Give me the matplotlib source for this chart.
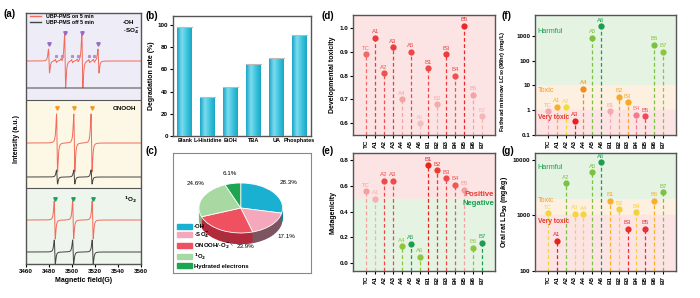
import numpy as np
import matplotlib.pyplot as plt
from matplotlib.patches import Patch
from matplotlib.lines import Line2D
from matplotlib.colors import LinearSegmentedColormap

plt.rcParams['font.family'] = ['Liberation Sans', 'DejaVu Sans']
plt.rcParams['font.size'] = 5
plt.rcParams['font.weight'] = 'bold'
plt.rcParams['axes.labelweight'] = 'bold'
plt.rcParams['axes.linewidth'] = 1.0
plt.rcParams['axes.edgecolor'] = '#555555'
plt.rcParams['xtick.major.size'] = 2
plt.rcParams['ytick.major.size'] = 2
plt.rcParams['xtick.major.pad'] = 1.5
plt.rcParams['ytick.major.pad'] = 1.5
plt.rcParams['axes.labelpad'] = 2

# ---------------- data ----------------
# (a) EPR line positions (G) and amplitudes
oh_lines = [3480, 3494, 3509, 3523]
oh_amps = [12, 27, 27, 12]
so4_lines = [3486, 3491, 3500, 3505, 3515, 3519]
so4_amps = [1.5, 1.5, 1.5, 1.5, 1.5, 1.5]
onooh_lines = [3487, 3502, 3517]
onooh_on = [29, 29, 29]
onooh_off = [7, 7, 7]
o2_lines = [3485, 3501, 3518]
o2_on = [19, 19, 19]
o2_off = [12, 12, 12]

# (b) quenching experiments
scavengers = ['Blank', 'L-Histidine', 'EtOH', 'TBA', 'UA', 'Phosphates']
degradation = [98, 35, 44, 65, 70, 91]

# (c) contribution of reactive species
species = ['·OH', '·SO$_4^{-}$', 'ONOOH/·O$_2^{-}$', '$^1$O$_2$', 'Hydrated electrons']
contrib = [28.3, 17.1, 23.9, 24.6, 6.1]

# (d)-(g) toxicity of TC and intermediates
products = ['TC', 'A1', 'A2', 'A3', 'A4', 'A5', 'A6',
            'B1', 'B2', 'B3', 'B4', 'B5', 'B6', 'B7']
dev_tox = [0.89, 0.96, 0.81, 0.92, 0.70, 0.90, 0.60,
           0.83, 0.68, 0.89, 0.80, 1.01, 0.72, 0.63]
mutagen = [0.56, 0.50, 0.64, 0.64, 0.13, 0.15, 0.05,
           0.76, 0.72, 0.66, 0.61, 0.57, 0.12, 0.16]
lc50 = [0.9, 1.4, 1.3, 0.38, 7.5, 850, 2500,
        0.9, 3.5, 2.1, 0.65, 0.58, 450, 230]
ld50 = [1100, 350, 3800, 1080, 1050, 6000, 9000,
        1850, 1300, 580, 1150, 580, 1850, 2600]

# ---------------- styles ----------------
RED = '#e8352e'
GREEN = '#1a9e50'
ORANGE = '#f39a2b'
d_colors = ['#f06a6a', '#ec3b3b', '#ef5050', '#ec3b3b', '#f4a3a3', '#ef4545', '#f6bcbc',
            '#ef4848', '#f5aaaa', '#ec3b3b', '#ef5050', '#e82a2a', '#f4a3a3', '#f6b6b6']
e_colors = ['#f4a0a0', '#f6b0b0', '#ef4a4a', '#ef4a4a', '#8cc63f', '#1a9e50', '#8cc63f',
            '#e8261e', '#ee3a2a', '#ef4a4a', '#f05858', '#f4a0a0', '#8cc63f', '#1a9e50']
f_colors = ['#f6a8b0', '#f7b02c', '#f0dc3a', '#e8201e', '#f28a1e', '#7cc242', '#1a9e50',
            '#f6a8b0', '#f7a82a', '#f7a82a', '#f27a8a', '#f04a5a', '#7cc242', '#8cc63f']
g_colors = ['#f4d63c', '#e8201e', '#7cc242', '#f4d63c', '#f4d63c', '#7cc242', '#1a9e50',
            '#f7b02c', '#f4d03c', '#ec3030', '#f4d03c', '#ec3030', '#f7b02c', '#7cc242']
pie_top = ['#19b0d2', '#f5a7bb', '#ef5160', '#a9d9a2', '#1ea552']
pie_side = ['#10829e', '#7d5560', '#b22a3c', '#86b47f', '#127a3c']

BG_PINK = '#fde4e4'
BG_GREEN = '#e5f3e3'
BG_ORANGE = '#fdf0e0'

W, H = 700, 298
fig = plt.figure(figsize=(W / 100, H / 100), dpi=100)


def px_box(l, t, r, b):
    return [l / W, 1 - b / H, (r - l) / W, (b - t) / H]


def letter(x, y, s):
    fig.text(x / W, 1 - y / H, s, fontsize=7, weight='bold', va='center')


# ---------------- (a) EPR ----------------
field = np.linspace(3460, 3560, 3000)


def epr(lines, amps, width=0.8):
    y = np.zeros_like(field)
    for c, a in zip(lines, amps):
        u = (field - c) / width
        y += a * (-u) / (1 + u ** 2) ** 2 / 0.3248
    return y


ax_a = fig.add_axes(px_box(26, 13, 141, 264))
ax_a.axhspan(164, 251, color='#eeecf6', zorder=0)
ax_a.axhspan(76, 164, color='#fdf7e6', zorder=0)
ax_a.axhspan(0, 76, color='#edf5ec', zorder=0)
ax_a.axhline(164, color='#555555', lw=0.8)
ax_a.axhline(76, color='#555555', lw=0.8)

red_l = '#f26b5b'
blk_l = '#444444'
ax_a.plot(field, 203 + epr(oh_lines, oh_amps) + epr(so4_lines, so4_amps), color=red_l, lw=0.7)
ax_a.plot(field, 176 + 0 * field, color=blk_l, lw=0.7)
ax_a.plot(field, 121 + epr(onooh_lines, onooh_on), color=red_l, lw=0.7)
ax_a.plot(field, 87 + epr(onooh_lines, onooh_off), color=blk_l, lw=0.7)
ax_a.plot(field, 44 + epr(o2_lines, o2_on), color=red_l, lw=0.7)
ax_a.plot(field, 12 + epr(o2_lines, o2_off), color=blk_l, lw=0.7)

ax_a.plot(oh_lines, [231 if a > 20 else 220 for a in oh_amps], 'v', color='#9b6bc4', ms=2.5)
ax_a.plot(so4_lines, [208] * len(so4_lines), '*', color='#b58fd6', ms=2)
ax_a.plot(onooh_lines, [156] * 3, 'v', color='#f59a23', ms=2.5)
ax_a.plot(o2_lines, [65] * 3, 'v', color='#1aa260', ms=2.5)

ax_a.text(3544, 242, '·OH', fontsize=4.5, va='center')
ax_a.text(3544, 233, '·SO$_4^{-}$', fontsize=4.5, va='center')
ax_a.text(3556, 156, 'ONOOH', fontsize=4.5, va='center', ha='right')
ax_a.text(3556, 64, '$^1$O$_2$', fontsize=4.5, va='center', ha='right')

ax_a.legend([Line2D([], [], color=red_l, lw=1), Line2D([], [], color=blk_l, lw=1)],
            ['UBP-PMS on 5 min', 'UBP-PMS off 5 min'],
            loc='upper left', bbox_to_anchor=(0.0, 1.01), frameon=False,
            fontsize=3.8, handlelength=2.2, labelspacing=0.15, borderaxespad=0.3)

ax_a.set_xlim(3460, 3560)
ax_a.set_ylim(0, 251)
ax_a.set_xticks([3460, 3480, 3500, 3520, 3540, 3560])
ax_a.set_yticks([])
ax_a.set_xlabel('Magnetic field(G)', fontsize=5)
ax_a.set_ylabel('Intensity (a.u.)', fontsize=5, labelpad=4)
ax_a.tick_params(labelsize=4.5)
letter(4, 14, '(a)')

# ---------------- (b) bars ----------------
ax_b = fig.add_axes(px_box(173, 16, 311, 136))
xb = np.arange(len(scavengers))
bars = ax_b.bar(xb, degradation, width=0.65, color='#3cc4de', edgecolor='none', zorder=2)
cmap = LinearSegmentedColormap.from_list('cy', ['#1aa6c6', '#7ddcef', '#3cc4de', '#1aa6c6'])
grad = np.linspace(0, 1, 60).reshape(1, -1)
for b in bars:
    im = ax_b.imshow(grad, extent=[b.get_x(), b.get_x() + b.get_width(), 0, b.get_height()],
                     aspect='auto', cmap=cmap, zorder=3)
    im.set_clip_path(b)
    ax_b.plot([b.get_x(), b.get_x() + b.get_width()], [b.get_height()] * 2,
              color='#bbbbbb', lw=0.8, zorder=4)
ax_b.set_xlim(-0.52, 5.5)
ax_b.set_ylim(0, 108)
ax_b.set_yticks([0, 20, 40, 60, 80, 100])
ax_b.set_xticks(xb, scavengers)
ax_b.tick_params(labelsize=4.5)
ax_b.tick_params(axis='x', length=0, labelsize=4.0)
ax_b.set_ylabel('Degradation rate (%)', fontsize=5)
letter(146, 16, '(b)')

# ---------------- (c) 3D-like pie ----------------
ax_c = fig.add_axes(px_box(173, 153, 311, 273))
depth = 0.45
for dy in np.linspace(depth, 0.02, 14):
    ax_c.pie(contrib, colors=pie_side, startangle=90, counterclock=False,
             center=(0, -dy), radius=1, frame=True, wedgeprops=dict(linewidth=0))
ax_c.pie(contrib, colors=pie_top, startangle=90, counterclock=False,
         center=(0, 0), radius=1, frame=True,
         wedgeprops=dict(edgecolor='white', linewidth=0.6))
ax_c.set_aspect('auto')
ax_c.set_xlim(-1.62, 1.68)
ax_c.set_ylim(-2.6, 2.2)
ax_c.set_xticks([])
ax_c.set_yticks([])
for s in ax_c.spines.values():
    s.set_color('#888888')
    s.set_linewidth(0.8)

pct_pos = [(1.15, 1.0), (1.1, -1.15), (0.12, -1.55), (-1.08, 0.98), (-0.27, 1.38)]
for v, (px, py) in zip(contrib, pct_pos):
    ax_c.text(px, py, f'{v}%', fontsize=4.5, weight='normal', ha='center', va='center')
ax_c.plot([-0.45, -0.2], [-1.0, -1.5], color='#555555', lw=0.4)

ax_c.legend([Patch(color=c) for c in pie_top], species, loc='lower left',
            bbox_to_anchor=(0.0, 0.0), frameon=False, fontsize=4.3,
            handlelength=2.4, handleheight=0.9, labelspacing=0.2,
            borderaxespad=0.3, handletextpad=0.4)
letter(146, 151, '(c)')


# ---------------- (d)-(g) lollipops ----------------
def lollipop(ax, values, colors, bottom):
    x = np.arange(len(products))
    for xi, v, c in zip(x, values, colors):
        ax.plot([xi, xi], [bottom, v], ls=(0, (3, 2)), color=c, lw=0.9, zorder=2)
        ax.plot(xi, v, 'o', color=c, ms=4.5, mec='none', zorder=3)
        ax.annotate(products[xi], (xi, v), xytext=(0, 2.5), textcoords='offset points',
                    ha='center', va='bottom', color=c, fontsize=4.3, weight='normal')
    ax.set_xticks(x, products, rotation=90)
    ax.set_xlim(-1.5, len(products) + 0.5)
    ax.tick_params(labelsize=4.5)


# (d)
ax_d = fig.add_axes(px_box(353, 15, 495, 135))
ax_d.set_ylim(0.55, 1.055)
ax_d.axhspan(0.55, 1.055, color=BG_PINK, zorder=0)
lollipop(ax_d, dev_tox, d_colors, 0.55)
ax_d.set_yticks([0.6, 0.7, 0.8, 0.9, 1.0])
ax_d.set_yticklabels(['0.6', '0.7', '0.8', '0.9', '1.0'])
ax_d.set_ylabel('Developmental toxicity', fontsize=5)
letter(321, 16, '(d)')

# (e)
ax_e = fig.add_axes(px_box(353, 153, 495, 271))
ax_e.set_ylim(-0.06, 0.855)
ax_e.axhspan(0.5, 0.855, color=BG_PINK, zorder=0)
ax_e.axhspan(-0.06, 0.5, color=BG_GREEN, zorder=0)
lollipop(ax_e, mutagen, e_colors, -0.06)
ax_e.set_yticks([0.0, 0.2, 0.4, 0.6, 0.8])
ax_e.set_yticklabels(['0.0', '0.2', '0.4', '0.6', '0.8'])
ax_e.text(14.4, 0.505, 'Positive', color=RED, fontsize=5.5, ha='right', va='bottom')
ax_e.text(14.4, 0.49, 'Negative', color=GREEN, fontsize=5.5, ha='right', va='top')
ax_e.set_ylabel('Mutagenicity', fontsize=5)
letter(321, 151, '(e)')

# (f)
ax_f = fig.add_axes(px_box(535, 15, 676, 135))
ax_f.set_yscale('log')
ax_f.set_ylim(0.1, 7000)
ax_f.axhspan(10, 7000, color=BG_GREEN, zorder=0)
ax_f.axhspan(1, 10, color=BG_ORANGE, zorder=0)
ax_f.axhspan(0.1, 1, color=BG_PINK, zorder=0)
lollipop(ax_f, lc50, f_colors, 0.1)
ax_f.set_yticks([0.1, 1, 10, 100, 1000])
ax_f.set_yticklabels(['0.1', '1', '10', '100', '1000'])
ax_f.minorticks_off()
ax_f.text(-1.2, 1450, 'Harmful', color=GREEN, fontsize=5.2, weight='normal', va='center')
ax_f.text(-1.2, 6.0, 'Toxic', color=ORANGE, fontsize=5.2, weight='normal', va='center')
ax_f.text(-1.2, 0.5, 'Very toxic', color=RED, fontsize=4.8, va='center')
ax_f.set_ylabel('Fathead minnow LC$_{50}$(96hr) (mg/L)', fontsize=4.3)
ax_f.yaxis.set_label_coords(-0.2, 0.45)
letter(501, 16, '(f)')

# (g)
ax_g = fig.add_axes(px_box(535, 153, 676, 271))
ax_g.set_yscale('log')
ax_g.set_ylim(100, 13300)
ax_g.axhspan(2000, 13300, color=BG_GREEN, zorder=0)
ax_g.axhspan(1000, 2000, color=BG_ORANGE, zorder=0)
ax_g.axhspan(100, 1000, color=BG_PINK, zorder=0)
lollipop(ax_g, ld50, g_colors, 100)
ax_g.set_yticks([100, 1000, 10000])
ax_g.set_yticklabels(['100', '1000', '10000'])
ax_g.minorticks_off()
ax_g.text(-1.2, 7300, 'Harmful', color=GREEN, fontsize=5.2, weight='normal', va='center')
ax_g.text(-1.2, 1850, 'Toxic', color=ORANGE, fontsize=5.2, weight='normal', va='center')
ax_g.text(-1.2, 790, 'Very toxic', color=RED, fontsize=4.8, va='center')
ax_g.set_ylabel('Oral rat LD$_{50}$ (mg/kg)', fontsize=5)
letter(501, 151, '(g)')

fig.savefig('out.png', dpi=100)
